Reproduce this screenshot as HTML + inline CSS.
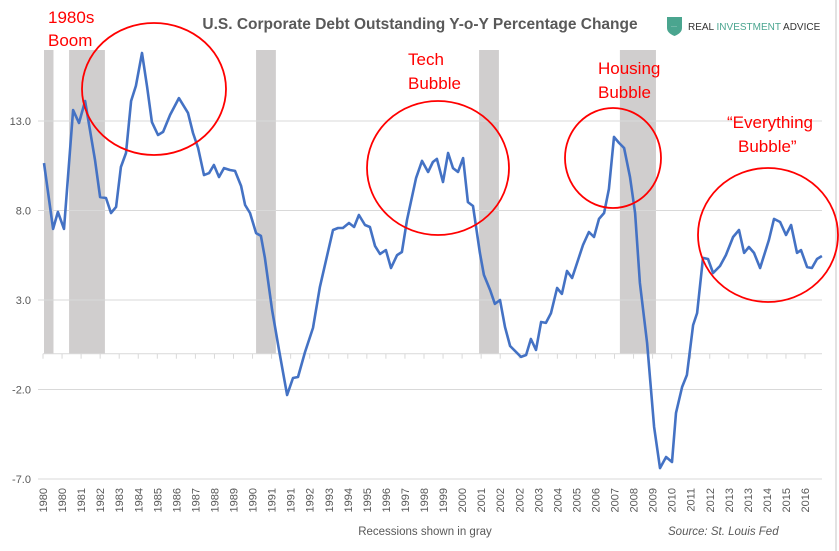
<!DOCTYPE html>
<html><head><meta charset="utf-8"><style>
html,body{margin:0;padding:0;background:#fff;}
svg{display:block;font-family:"Liberation Sans",sans-serif;}
</style></head><body>
<svg id="chart" width="839" height="551" viewBox="0 0 839 551">
<rect x="0" y="0" width="839" height="551" fill="#fff"/>
<line x1="836" y1="0" x2="836" y2="551" stroke="#d9d9d9" stroke-width="1.5"/>
<g id="recessions"></g>
<g id="grid"></g>
<g id="yaxis"></g>
<g id="xaxis"></g>
<path id="line" fill="none" stroke="#4472c4" stroke-width="2.6" stroke-linejoin="round"/>
<text x="420" y="29" text-anchor="middle" font-size="15.5" font-weight="bold" fill="#595959">U.S. Corporate Debt Outstanding Y-o-Y Percentage Change</text>
<g>
<path d="M667,17 h15 v11 q0,5 -7.5,8 q-7.5,-3 -7.5,-8 z" fill="#4aa58f"/>
<text x="671" y="28" font-size="6" fill="#fff">···</text>
<text x="688" y="30" font-size="10" fill="#333">REAL <tspan fill="#4aa58f">INVESTMENT</tspan> ADVICE</text>
</g>
<g fill="none" stroke="#ff0000" stroke-width="1.8">
<ellipse cx="154" cy="89" rx="72" ry="66"/>
<ellipse cx="438" cy="168" rx="71" ry="67"/>
<ellipse cx="613" cy="158" rx="48" ry="50"/>
<ellipse cx="768" cy="235" rx="70" ry="67"/>
</g>
<g fill="#ff0000" font-size="17">
<text x="48" y="23">1980s</text>
<text x="48" y="46">Boom</text>
<text x="408" y="65">Tech</text>
<text x="408" y="89">Bubble</text>
<text x="598" y="74">Housing</text>
<text x="598" y="98">Bubble</text>
<text x="727" y="128">“Everything</text>
<text x="738" y="152">Bubble”</text>
</g>
<text x="425" y="535" text-anchor="middle" font-size="11.5" fill="#595959">Recessions shown in gray</text>
<text x="668" y="535" font-size="11.5" font-style="italic" fill="#595959">Source: St. Louis Fed</text>
</svg>
<script>
const years = [1980.0,1980.43,1980.66,1980.95,1981.38,1981.66,1981.95,1982.42,1982.66,1982.94,
1983.18,1983.42,1983.65,1983.89,1984.13,1984.36,1984.65,1984.89,1985.12,1985.41,
1985.65,1985.98,1986.40,1986.83,1987.07,1987.31,1987.59,1987.83,1988.06,1988.30,
1988.54,1988.82,1989.06,1989.35,1989.54,1989.77,1990.06,1990.29,1990.48,1990.82,
1991.15,1991.53,1991.81,1992.05,1992.38,1992.76,1993.09,
1993.71,1993.95,1994.18,1994.47,1994.71,1994.94,1995.23,1995.46,1995.70,1995.94,
1996.22,1996.46,1996.75,1996.98,1997.22,1997.65,1997.93,1998.22,1998.45,1998.64,
1998.93,1999.17,1999.40,1999.64,1999.88,2000.11,2000.35,2000.68,2000.87,2001.16,
2001.39,2001.63,2001.87,2002.11,2002.63,2002.87,2003.10,2003.34,2003.58,2003.81,2004.05,
2004.34,2004.57,2004.81,2005.05,2005.57,2005.85,2006.09,2006.33,2006.57,2006.80,
2007.04,2007.28,2007.52,2007.80,2008.04,2008.27,2008.61,2008.94,2009.22,2009.51,
2009.79,2009.98,2010.27,2010.50,2010.79,2010.98,2011.26,2011.50,2011.74,2012.07,
2012.35,2012.69,2012.97,2013.21,2013.44,2013.68,2013.97,2014.39,2014.63,2014.92,
2015.20,2015.44,2015.72,2015.91,2016.20,2016.43,2016.67,2016.90];
const values = [10.65,6.97,7.92,6.97,13.61,12.89,14.12,10.82,8.75,8.70,
7.86,8.20,10.43,11.21,14.12,14.96,16.80,14.91,12.94,12.22,
12.39,13.34,14.28,13.45,12.33,11.49,9.98,10.09,10.54,9.87,
10.37,10.26,10.21,9.37,8.31,7.86,6.74,6.58,5.35,2.44,
0.21,-2.31,-1.36,-1.30,0.09,1.44,3.73,
6.91,7.02,7.02,7.30,7.08,7.75,7.19,7.08,6.02,5.57,
5.79,4.79,5.51,5.68,7.47,9.82,10.77,10.15,10.71,10.88,
9.59,11.21,10.37,10.15,10.93,8.47,8.25,5.63,4.40,3.56,
2.78,3.00,1.49,0.43,-0.18,-0.07,0.82,0.21,1.77,1.72,2.27,
3.67,3.34,4.62,4.23,6.07,6.80,6.52,7.53,7.86,9.20,
12.11,11.77,11.49,9.87,7.86,3.95,0.60,-4.09,-6.39,-5.77,
-6.05,-3.31,-1.86,-1.19,1.60,2.27,5.35,5.29,4.51,4.90,
5.51,6.52,6.91,5.63,5.96,5.63,4.79,6.35,7.53,7.36,
6.63,7.19,5.63,5.79,4.84,4.79,5.29,5.46];
const recessionStarts = [1980.0,1981.19,1990.06,2000.64,2007.32];
const recessionEnds = [1980.45,1982.89,1991.0,2001.58,2009.03];
const yTicks = [13,8,3,-2,-7];
const yTickLabels = ["13.0","8.0","3.0","-2.0","-7.0"];
const xLabels = ["1980","1980","1981","1982","1983","1984","1985","1986","1987","1988","1989","1990","1991","1991","1992","1993","1994","1995","1996","1997","1998","1999","2000","2001","2002","2002","2003","2004","2005","2006","2007","2008","2009","2010","2011","2012","2013","2013","2014","2015","2016"];

const NS='http://www.w3.org/2000/svg';
function X(t){return 44+(t-1980)*21.08;}
function Y(v){return 300-(v-3)*17.9;}
function mk(tag,attrs,parent){const e=document.createElementNS(NS,tag);for(const k in attrs)e.setAttribute(k,attrs[k]);parent.appendChild(e);return e;}

const rg=document.getElementById('recessions');
recessionStarts.forEach((s,i)=>{
  const r=mk('rect',{x:X(s),y:50,width:X(recessionEnds[i])-X(s),height:Y(0)-50,fill:'#d0cece'},rg);
  
  
});
const gg=document.getElementById('grid'), yg=document.getElementById('yaxis');
yTicks.forEach((v,i)=>{
  const l=mk('line',{x1:38,x2:822,y1:Y(v),y2:Y(v),stroke:'#d9d9d9','stroke-width':1},gg);
  
  
  const t=mk('text',{x:31,y:Y(v)+4,'text-anchor':'end','font-size':11,fill:'#595959'},yg);
  t.textContent=yTickLabels[i];
  
  
});
const xg=document.getElementById('xaxis');
const za=mk('line',{x1:43,x2:822,y1:Y(0),y2:Y(0),stroke:'#d9d9d9','stroke-width':1},xg);


xLabels.forEach((lab,i)=>{
  const x=43+19.05*i;
  const tk=mk('line',{x1:x,x2:x,y1:Y(0),y2:Y(0)+5,stroke:'#d9d9d9'},xg);
  
  
  const t=mk('text',{x:0,y:0,'font-size':11,fill:'#595959','text-anchor':'end',transform:'translate('+(x+4)+',488) rotate(-90)'},xg);
  t.textContent=lab;
  
  
});
document.getElementById('line').setAttribute('d',years.map((t,i)=>(i?'L':'M')+X(t).toFixed(1)+','+Y(values[i]).toFixed(1)).join(' '));
</script>
</body></html>
